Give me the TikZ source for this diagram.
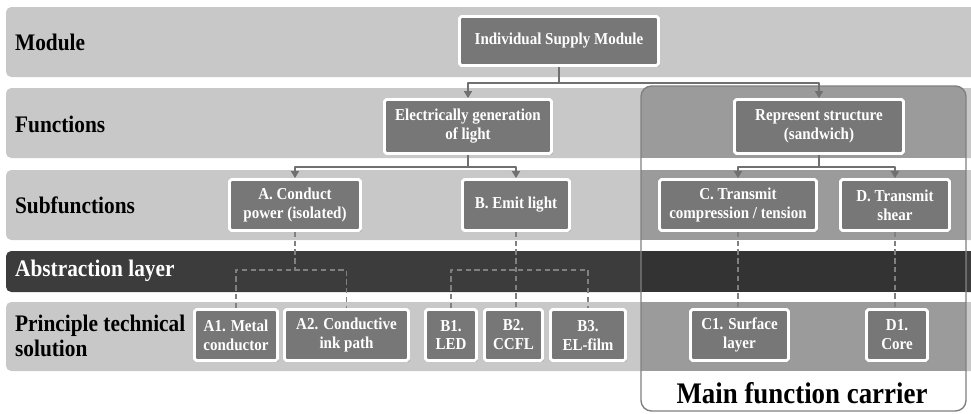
\documentclass[tikz,border=0pt]{standalone}
\usepackage{fontspec}
\setmainfont[FakeStretch=0.9]{Liberation Serif}
\usetikzlibrary{arrows.meta,shadows}

\definecolor{bandgray}{HTML}{C8C8C8}
\definecolor{carriergray}{HTML}{9B9B9B}
\definecolor{boxgray}{HTML}{777777}
\definecolor{darkband}{HTML}{3C3C3C}
\definecolor{linegray}{HTML}{707070}

\begin{document}
\begin{tikzpicture}[x=0.02cm, y=-0.02cm, line join=round,
	band/.style={fill=bandgray, rounded corners=3pt},
	fbox/.style={fill=boxgray, draw=white, line width=1.6pt, rounded corners=1pt, text=white, align=center,
		font=\bfseries\fontsize{9.5}{10.8}\selectfont, inner sep=1pt,
		drop shadow={shadow xshift=0.8pt, shadow yshift=-0.8pt, opacity=0.45}},
	rowlabel/.style={anchor=west, align=left, inner sep=1pt, font=\bfseries\fontsize{13.5}{14.5}\selectfont},
	conn/.style={draw=linegray, line width=1.1pt, -{Triangle[width=4.5pt,length=4pt]}},
	link/.style={draw=linegray, line width=1.1pt},
	dline/.style={draw=gray, line width=0.9pt, dash pattern=on 3pt off 2pt}]
	
	\useasboundingbox (0,0) rectangle (971,413);
	
	% bands
	\fill[band] (6,7) rectangle (980,77);
	\fill[band] (6,88) rectangle (980,158);
	\fill[band] (6,170) rectangle (980,240);
	\fill[band, fill=darkband] (6,251) rectangle (980,292);
	\fill[band] (6,302) rectangle (980,371);
	
	% main function carrier
	\fill[white, rounded corners=6pt] (641,86) rectangle (966,411);
	\begin{scope}
		\clip[rounded corners=6pt] (641,86) rectangle (966,411);
		\fill[carriergray] (641,80) rectangle (970,158);
		\fill[carriergray] (641,170) rectangle (970,240);
		\fill[darkband!85!black] (641,251) rectangle (970,292);
		\fill[carriergray] (641,302) rectangle (970,371);
	\end{scope}
	\draw[gray, line width=0.8pt, rounded corners=6pt] (641,86) rectangle (966,411);
	\node[font=\bfseries\fontsize{17}{20}\selectfont] (mfc) at (802,393) {Main function carrier};
	
	% row labels
	\node[rowlabel] (lmod) at (13,42) {Module};
	\node[rowlabel] (lfun) at (13,124) {Functions};
	\node[rowlabel] (lsub) at (13,205) {Subfunctions};
	\node[rowlabel, text=white] (labs) at (13,271) {Abstraction layer};
	\node[rowlabel] (lpts) at (13,336) {Principle technical\\solution};
	
	% boxes
	\node[fbox, minimum width=3.98cm, minimum height=0.98cm] (ism) at (559,41) {Individual Supply Module};
	
	\node[fbox, minimum width=3.34cm, minimum height=1.08cm] (egl) at (468,126.5) {Electrically generation\\of light};
	\node[fbox, minimum width=3.38cm, minimum height=1.08cm] (rs) at (819,126.5) {Represent structure\\(sandwich)};
	
	\node[fbox, minimum width=2.62cm, minimum height=1.02cm] (a) at (295,205) {A. Conduct\\power (isolated)};
	\node[fbox, minimum width=2.14cm, minimum height=1.02cm] (b) at (516,205) {B. Emit light};
	\node[fbox, minimum width=3.14cm, minimum height=1.02cm] (c) at (738,205) {C. Transmit\\compression / tension};
	\node[fbox, minimum width=2.18cm, minimum height=1.02cm] (d) at (895,205) {D. Transmit\\shear};
	
	\node[fbox, minimum width=1.66cm, minimum height=1.02cm] (a1) at (236,335) {A1. Metal\\conductor};
	\node[fbox, minimum width=2.48cm, minimum height=1.02cm] (a2) at (346.5,335) {A2. Conductive\\ink path};
	\node[fbox, minimum width=1.02cm, minimum height=1.02cm] (b1) at (451,335) {B1.\\LED};
	\node[fbox, minimum width=1.16cm, minimum height=1.02cm] (b2) at (513.5,335) {B2.\\CCFL};
	\node[fbox, minimum width=1.50cm, minimum height=1.02cm] (b3) at (588,335) {B3.\\EL-film};
	\node[fbox, minimum width=1.96cm, minimum height=1.02cm] (c1) at (739.5,335) {C1. Surface\\layer};
	\node[fbox, minimum width=1.22cm, minimum height=1.02cm] (d1) at (897,335) {D1.\\Core};
	
	% connectors
	\draw[link] (ism.south) -- ++(0,16) coordinate (ismj);
	\draw[conn] (ismj) -| (egl.north);
	\draw[conn] (ismj) -| (rs.north);
	
	\draw[link] (egl.south) -- ++(0,12) coordinate (eglj);
	\draw[conn] (eglj) -| (a.north);
	\draw[conn] (eglj) -| (b.north);
	
	\draw[link] (rs.south) -- ++(0,12) coordinate (rsj);
	\draw[conn] (rsj) -| (c.north);
	\draw[conn] (rsj) -| (d.north);
	
	% abstraction links
	\draw[dline] (a.south) -- ++(0,38) coordinate (aj);
	\draw[dline] (a1.north) |- (aj) -| (a2.north);
	
	\draw[dline] (b.south) -- (b.south |- b2.north);
	\path (b.south) ++(0,38) coordinate (bj);
	\draw[dline] (b1.north) |- (bj) -| (b3.north);
	
	\draw[dline] (c.south) -- (c.south |- c1.north);
	\draw[dline] (d.south) -- (d.south |- d1.north);
\end{tikzpicture}
\end{document}
